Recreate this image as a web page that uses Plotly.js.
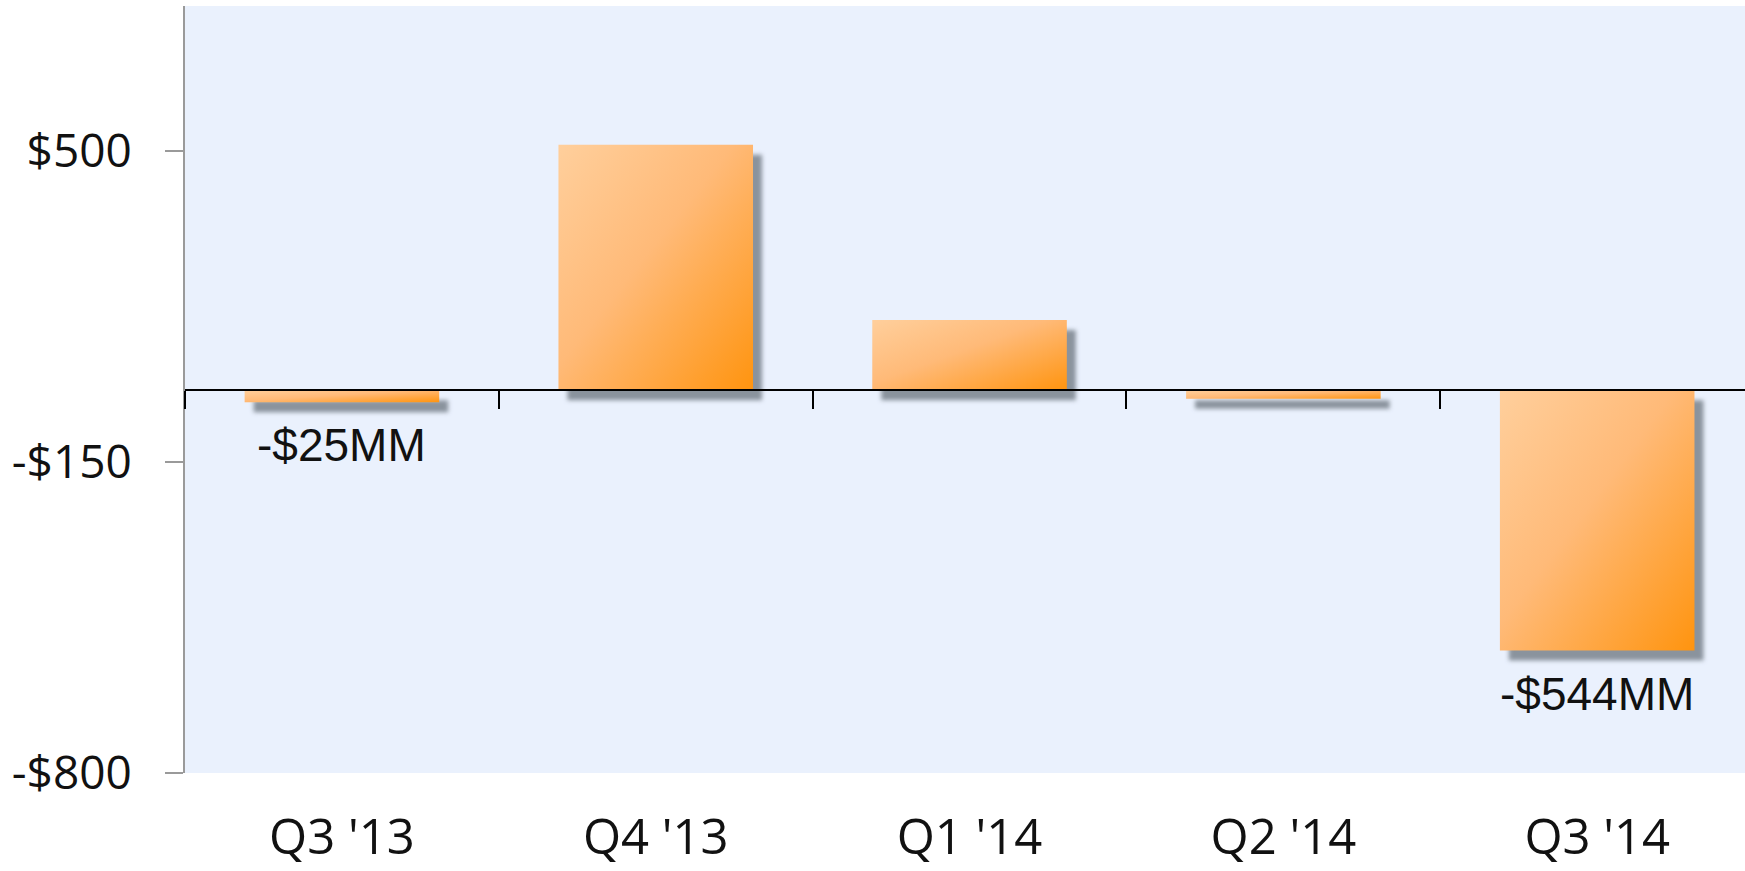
<!DOCTYPE html>
<html>
<head>
<meta charset="utf-8">
<script src="https://cdn.plot.ly/plotly-3.0.1.min.js"></script>
<style>
  html, body { margin: 0; padding: 0; background: #fff; }
  #chart { width: 1745px; height: 871px; }
  .trace.bars .point path {
    fill: url(#barGrad) !important;
    filter: drop-shadow(9px 10px 2px rgba(128,136,146,0.9));
  }
</style>
</head>
<body>
<svg width="0" height="0" style="position:absolute">
  <defs>
    <linearGradient id="barGrad" x1="0" y1="0" x2="1" y2="1">
      <stop offset="0" stop-color="#FFCF9C"/>
      <stop offset="0.45" stop-color="#FFBA78"/>
      <stop offset="1" stop-color="#FF940F"/>
    </linearGradient>
  </defs>
</svg>
<div id="chart"></div>
<script>
// ---- data ----
const quarters = ["Q3 '13", "Q4 '13", "Q1 '14", "Q2 '14", "Q3 '14"];
const values = [-25, 513, 147, -18, -544];
const valueLabels = ["-$25MM", "", "", "", "-$544MM"];
const yTickVals = [500, -150, -800];
const yTickText = ["$500", "-$150", "-$800"];

const yRange = [-800, 803];
const zeroFrac = (0 - yRange[0]) / (yRange[1] - yRange[0]);

const fontFam = "'Open Sans', sans-serif";
const labelFam = "'Liberation Sans', Arial, sans-serif";

const trace = {
  type: 'bar',
  x: quarters,
  y: values,
  width: 0.62,
  marker: { color: '#FFB46A', line: { width: 0 } },
  hoverinfo: 'x+y',
  showlegend: false
};

const annotations = [];
quarters.forEach((q, i) => {
  if (valueLabels[i]) {
    annotations.push({
      x: q, y: values[i], xref: 'x', yref: 'y',
      text: valueLabels[i], showarrow: false,
      xanchor: 'center', yanchor: 'top', yshift: -15,
      font: { family: labelFam, size: 46, color: '#111111' }
    });
  }
});

const layout = {
  width: 1745, height: 871,
  margin: { l: 185, r: 0, t: 6, b: 98 },
  paper_bgcolor: '#ffffff',
  plot_bgcolor: '#EAF1FD',
  font: { family: fontFam, color: '#111111' },
  showlegend: false,
  xaxis: {
    type: 'category',
    categoryorder: 'array', categoryarray: quarters,
    range: [-0.5, 4.471],
    anchor: 'free', position: zeroFrac,
    showline: true, linecolor: '#000000', linewidth: 2,
    ticks: 'outside', tickson: 'boundaries', ticklen: 18, tickwidth: 2, tickcolor: '#000000',
    ticklabelstandoff: 404,
    tickfont: { family: fontFam, size: 49, color: '#111111' },
    showgrid: false, zeroline: false, fixedrange: true
  },
  yaxis: {
    range: yRange,
    tickvals: yTickVals, ticktext: yTickText,
    showline: true, linecolor: '#9a9a9a', linewidth: 2,
    ticks: 'outside', ticklen: 18, tickwidth: 2, tickcolor: '#9a9a9a',
    ticklabelstandoff: 24,
    tickfont: { family: fontFam, size: 46, color: '#111111' },
    showgrid: false, zeroline: false, fixedrange: true
  },
  annotations: annotations
};

Plotly.newPlot('chart', [trace], layout, { displayModeBar: false, staticPlot: true });
</script>
</body>
</html>
